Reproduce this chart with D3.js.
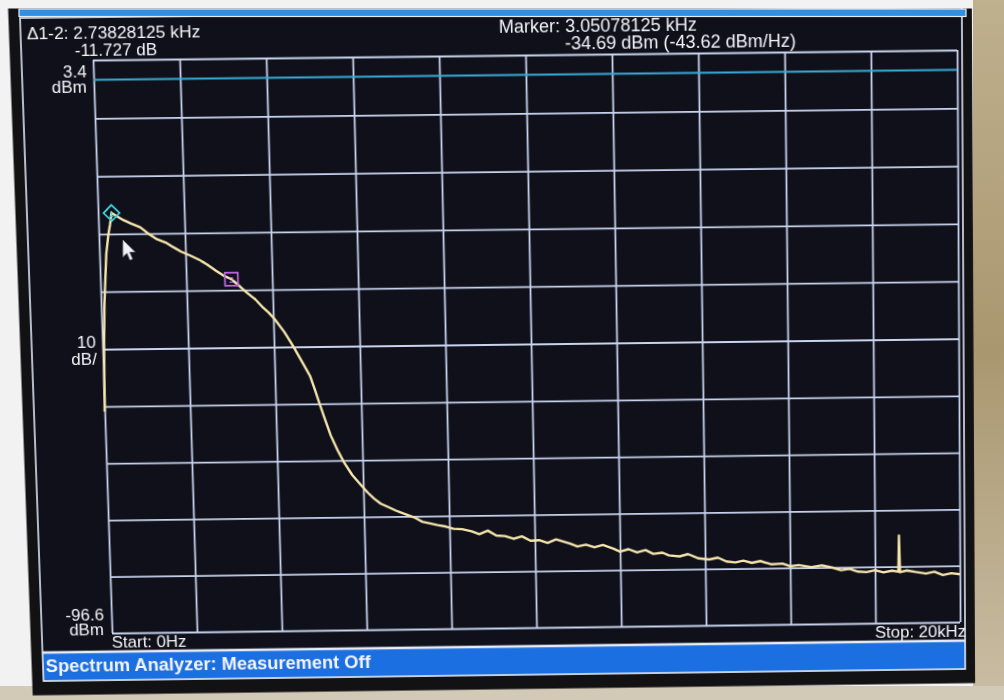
<!DOCTYPE html>
<html><head><meta charset="utf-8">
<script src="https://cdn.jsdelivr.net/npm/d3@7"></script>
<style>
html,body{margin:0;padding:0;width:1004px;height:700px;overflow:hidden;background:#e8e6e2;}
#bg,#over{position:absolute;left:0;top:0;}
#screen{position:absolute;left:0;top:0;width:1004px;height:700px;transform-origin:0 0;}
svg{overflow:visible;display:block}
text{font-family:"Liberation Sans",Arial,sans-serif;fill:#f4f4f8}
</style></head><body>
<svg id="bg" width="1004" height="700"></svg>
<div id="screen"><svg id="chart" width="1004" height="700"></svg></div>
<svg id="over" width="1004" height="700"></svg>
<script>
// ---------------- data ----------------
const freqKHz = [0.00,0.04,0.08,0.16,0.22,0.27,0.3125,0.45,0.58,0.75,0.97,1.15,1.35,1.55,1.72,1.90,2.11,2.30,2.50,2.70,2.86,3.05078125,
3.25,3.41,3.60,3.77,3.90,4.04,4.25,4.44,4.62,4.82,4.93,5.04,5.15,5.27,5.42,5.56,5.75,5.95,6.10,6.25,6.40,6.60,6.79,7.00,7.18,7.37,
7.55,7.72,7.92,8.10,8.30,8.52,8.70,8.90,9.10,9.30,9.50,9.70,9.90,10.10,10.30,10.50,10.83,11.00,11.20,11.40,11.60,11.85,12.00,12.20,
12.40,12.60,12.78,13.00,13.15,13.40,13.60,13.85,14.10,14.30,14.50,14.71,14.90,15.10,15.30,15.55,15.82,16.00,16.20,16.50,16.75,17.03,
17.20,17.40,17.60,17.80,18.00,18.20,18.40,18.55,18.57,18.59,18.75,18.96,19.20,19.40,19.60,19.80,20.00];
const levelDbm = [-57.5,-45.5,-38.5,-30.0,-26.8,-24.9,-22.96,-23.6,-24.2,-24.8,-25.5,-26.6,-27.6,-28.2,-29.0,-29.8,-30.5,-31.2,-32.1,-33.2,-34.0,-34.69,
-36.0,-37.1,-38.3,-39.7,-40.6,-41.8,-44.0,-46.4,-48.9,-51.7,-54.2,-56.9,-59.5,-62.2,-64.8,-66.9,-69.2,-71.0,-72.3,-73.4,-74.3,-75.0,-75.7,-76.3,-76.8,-77.6,
-77.9,-78.2,-78.5,-78.9,-79.0,-79.4,-79.9,-79.3,-80.2,-80.3,-80.8,-80.4,-81.2,-81.1,-81.6,-81.0,-81.8,-82.3,-82.0,-82.5,-82.1,-82.8,-83.3,-82.9,
-83.5,-83.1,-83.8,-83.6,-84.1,-84.3,-83.9,-84.7,-84.9,-84.6,-85.3,-85.5,-85.2,-85.6,-85.3,-85.9,-85.8,-86.3,-86.1,-86.5,-86.2,-86.7,
-87.1,-86.9,-87.4,-87.5,-87.2,-87.6,-87.3,-87.5,-81.1,-87.6,-87.3,-87.6,-87.9,-87.6,-88.2,-87.9,-88.1];
const xGridKHz = [0,2,4,6,8,10,12,14,16,18,20];
const yGridDbm = [3.4,-6.6,-16.6,-26.6,-36.6,-46.6,-56.6,-66.6,-76.6,-86.6,-96.6];
const refLineDbm = [0];
const markerFreqKHz = [0.3125, 3.05078125];
const markerLevelDbm = [-22.96, -34.69];
const markerShapes = ["diamond","square"];
const headerLeft = ["\u03941-2: 2.73828125 kHz", "-11.727 dB"];
const headerRight = ["Marker: 3.05078125 kHz", "-34.69 dBm (-43.62 dBm/Hz)"];
const yLabelsTop = ["3.4","dBm"];
const yLabelsMid = ["10","dB/"];
const yLabelsBot = ["-96.6","dBm"];
const startLabel = "Start: 0Hz";
const stopLabel = "Stop: 20kHz";
const statusLabel = "Spectrum Analyzer: Measurement Off";

// ---------------- perspective of the photo ----------------
const plotL=100, plotR=960, plotT=55, plotB=628;
const devCorners = [[plotL,plotT],[plotR,plotT],[plotR,plotB],[plotL,plotB]];
const imgCorners = [[93,60],[957,50],[960,622],[112,633]];
function solveH(src,dst){
  const A=[],b=[];
  for(let i=0;i<4;i++){const [x,y]=src[i],[u,v]=dst[i];
    A.push([x,y,1,0,0,0,-u*x,-u*y]);b.push(u);
    A.push([0,0,0,x,y,1,-v*x,-v*y]);b.push(v);}
  const n=8;
  for(let c=0;c<n;c++){let p=c;for(let r=c+1;r<n;r++)if(Math.abs(A[r][c])>Math.abs(A[p][c]))p=r;
    [A[c],A[p]]=[A[p],A[c]];[b[c],b[p]]=[b[p],b[c]];
    for(let r=0;r<n;r++){if(r===c)continue;const f=A[r][c]/A[c][c];for(let k=c;k<n;k++)A[r][k]-=f*A[c][k];b[r]-=f*b[c];}}
  const h=b.map((v,i)=>v/A[i][i]);return [...h,1];
}
const H=solveH(devCorners,imgCorners), Hi=solveH(imgCorners,devCorners);
const ap=(M,[x,y])=>{const w=M[6]*x+M[7]*y+1;return [(M[0]*x+M[1]*y+M[2])/w,(M[3]*x+M[4]*y+M[5])/w];};
const inv=p=>ap(Hi,p);
d3.select("#screen").style("transform",`matrix3d(${H[0]},${H[3]},0,${H[6]},${H[1]},${H[4]},0,${H[7]},0,0,1,0,${H[2]},${H[5]},0,1)`);

// ---------------- photo background (untransformed) ----------------
const bg=d3.select("#bg");
bg.append("rect").attr("x",0).attr("y",0).attr("width",1004).attr("height",700).attr("fill","#f2f2f2");
const tan=bg.append("defs").append("linearGradient").attr("id","tan").attr("x1",0).attr("x2",0).attr("y1",0).attr("y2",1);
tan.append("stop").attr("offset","0").attr("stop-color","#bfb08e");
tan.append("stop").attr("offset","0.5").attr("stop-color","#a9976f");
tan.append("stop").attr("offset","1").attr("stop-color","#c9bda4");
bg.append("rect").attr("x",973).attr("y",0).attr("width",40).attr("height",700).attr("fill","url(#tan)");
bg.append("rect").attr("x",0).attr("y",686).attr("width",1004).attr("height",20).attr("fill","#d2c9b6");

// ---------------- screen (transformed) ----------------
const svg=d3.select("#chart");
function devRect(tl,br,fill){const a=inv(tl),b=inv(br);
  return svg.append("rect").attr("x",a[0]).attr("y",a[1]).attr("width",b[0]-a[0]).attr("height",b[1]-a[1]).attr("fill",fill);}
// bezel
devRect([8,6],[975,683],"#121214");
// LCD main
const lt=inv([20,18]), rb=inv([965,640]);
svg.append("rect").attr("x",lt[0]).attr("y",lt[1]).attr("width",rb[0]-lt[0]).attr("height",rb[1]-lt[1])
  .attr("fill","#0f1019").attr("stroke","#dfe6f5").attr("stroke-width",1.6);
// status bar
const st=inv([44,653]), sb=inv([44,681]);
svg.append("rect").attr("x",lt[0]).attr("y",st[1]).attr("width",rb[0]-lt[0]).attr("height",sb[1]-st[1])
  .attr("fill","#1c6fe0").attr("stroke","#e8eef8").attr("stroke-width",1.6);

// scales
const x=d3.scaleLinear().domain([0,20]).range([plotL,plotR]);
const y=d3.scaleLinear().domain([-96.6,3.4]).range([plotB,plotT]);

// grid via axes
const gx=svg.append("g").attr("transform",`translate(0,${plotB})`)
  .call(d3.axisBottom(x).tickValues(xGridKHz).tickSize(-(plotB-plotT)).tickFormat(""));
const gy=svg.append("g").attr("transform",`translate(${plotL},0)`)
  .call(d3.axisLeft(y).tickValues(yGridDbm).tickSize(-(plotR-plotL)).tickFormat(""));
[gx,gy].forEach(g=>{g.select(".domain").remove();g.selectAll("line").attr("stroke","#c8d3ee").attr("stroke-width",1.8);});

// reference line
svg.selectAll(".ref").data(refLineDbm).enter().append("line")
  .attr("x1",plotL).attr("x2",plotR).attr("y1",d=>y(d)).attr("y2",d=>y(d))
  .attr("stroke","#38a9d6").attr("stroke-width",1.8);

// trace
const pts=freqKHz.map((f,i)=>[f,levelDbm[i]]);
svg.append("path").datum(pts)
  .attr("d",d3.line().x(d=>x(d[0])).y(d=>y(d[1])))
  .attr("fill","none").attr("stroke","#f6e6ad").attr("stroke-width",2.4).attr("stroke-linejoin","round");

// markers
markerFreqKHz.forEach((f,i)=>{
  const cx=x(f), cy=y(markerLevelDbm[i]);
  if(markerShapes[i]==="diamond"){
    svg.append("path").attr("d",`M${cx},${cy-8}L${cx+8},${cy}L${cx},${cy+8}L${cx-8},${cy}Z`)
      .attr("fill","none").attr("stroke","#3fd0dc").attr("stroke-width",1.8);
    svg.append("text").attr("x",cx).attr("y",cy+3.5).attr("text-anchor","middle").attr("font-size",9).style("fill","#3fd0dc").text("1");
  } else {
    svg.append("rect").attr("x",cx-6.5).attr("y",cy-6.5).attr("width",13).attr("height",13)
      .attr("fill","none").attr("stroke","#b866dc").attr("stroke-width",1.8);
    svg.append("text").attr("x",cx).attr("y",cy+3.5).attr("text-anchor","middle").attr("font-size",9).style("fill","#b866dc").text("2");
  }
});

// mouse pointer
const cur=[[123,240],[123,257],[127,253],[130,260],[132.5,259],[129.5,252],[135,252]].map(inv);
svg.append("path").attr("d","M"+cur.map(p=>p.join(",")).join("L")+"Z").attr("fill","#f2f2f8").attr("stroke","#888").attr("stroke-width",0.6);

// texts
function txt(p,s,anchor,size,weight){const q=inv(p);
  return svg.append("text").attr("x",q[0]).attr("y",q[1]).attr("text-anchor",anchor||"start")
    .attr("font-size",size||17).attr("font-weight",weight||"normal").text(s);}
txt([27,39],headerLeft[0],"start",17.3);
txt([75,56],headerLeft[1]);
txt([499,33],headerRight[0],"start",18);
txt([565,49],headerRight[1],"start",18);
txt([87,77],yLabelsTop[0],"end");
txt([87,93],yLabelsTop[1],"end");
txt([96,348],yLabelsMid[0],"end");
txt([97,365],yLabelsMid[1],"end");
txt([104,620],yLabelsBot[0],"end");
txt([104,635],yLabelsBot[1],"end");
txt([112,648],startLabel);
txt([966,637],stopLabel,"end");
txt([46,672],statusLabel,"start",18.5,"bold");

// ---------------- top strip of the photo (untransformed overlay) ----------------
const ov=d3.select("#over");
ov.append("rect").attr("x",0).attr("y",0).attr("width",972).attr("height",8.5).attr("fill","#f2f2f2");
ov.append("rect").attr("x",19).attr("y",9).attr("width",947).attr("height",7.5)
  .attr("fill","#2f8fe2").attr("stroke","#e4ecf8").attr("stroke-width",1.2);
</script>
</body></html>
